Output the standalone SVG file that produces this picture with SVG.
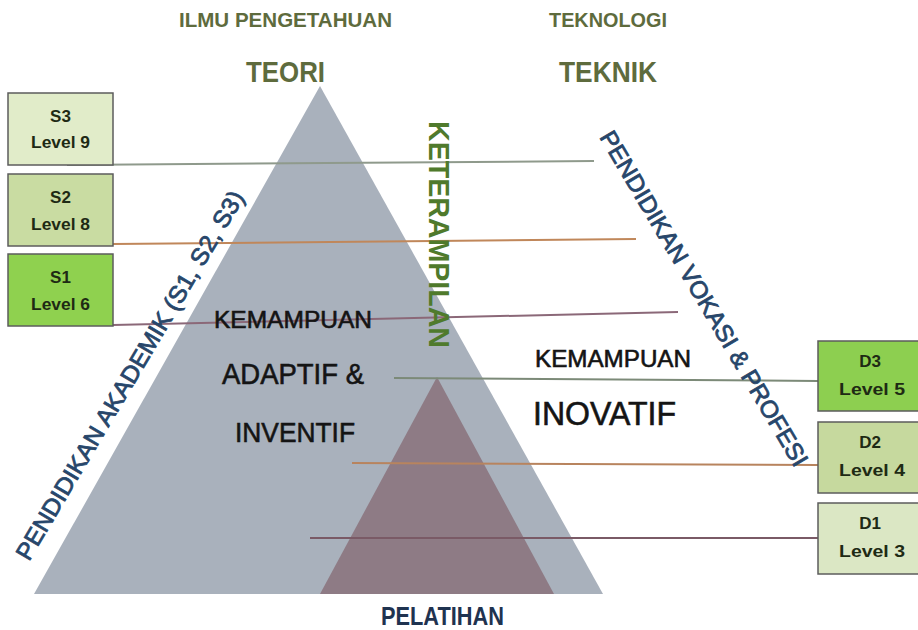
<svg xmlns="http://www.w3.org/2000/svg" width="918" height="630" viewBox="0 0 918 630">
<style>
.title{font-family:"Liberation Sans",Arial,sans-serif;font-weight:bold;fill:#5e6b3d}
.big{font-family:"Liberation Sans",Arial,sans-serif;fill:#141414;stroke:#141414;stroke-width:0.6}
.diag{font-family:"Liberation Sans",Arial,sans-serif;fill:#27466a;stroke:#27466a;stroke-width:0.8;font-size:24px}
.box rect{stroke:#5c5c5c;stroke-width:1.5}
.box text{font-family:"Liberation Sans",Arial,sans-serif;font-weight:bold;font-size:17px;fill:#1e2a14;text-anchor:middle}
.conn line{stroke-width:2}
</style>
<rect width="918" height="630" fill="#ffffff"/>
<g id="pyramid">
<polygon points="320,86 603,594 34,594" fill="#a9b1bc"/>
<polygon points="437,377 554,594 320,594" fill="#8e7b85"/>
</g>
<g id="connectors" class="conn">
<line x1="67" y1="165" x2="594" y2="161" stroke="#8f9a8c"/>
<line x1="113" y1="244" x2="636" y2="239" stroke="#c0875a"/>
<line x1="113" y1="325" x2="678" y2="312" stroke="#8b6878"/>
<line x1="394" y1="378" x2="818" y2="381" stroke="#7c8a78"/>
<line x1="352" y1="463" x2="818" y2="465" stroke="#b8845e"/>
<line x1="310" y1="538" x2="818" y2="538" stroke="#7a5a66"/>
</g>
<g id="headers">
<text class="title" x="179" y="27" font-size="20" textLength="213" lengthAdjust="spacingAndGlyphs">ILMU PENGETAHUAN</text>
<text class="title" x="549" y="27" font-size="20" textLength="118" lengthAdjust="spacingAndGlyphs">TEKNOLOGI</text>
<text class="title" x="246" y="82" font-size="30" textLength="79" lengthAdjust="spacingAndGlyphs">TEORI</text>
<text class="title" x="559" y="82" font-size="30" textLength="98" lengthAdjust="spacingAndGlyphs">TEKNIK</text>
</g>
<g id="keterampilan">
<text transform="translate(429,121) rotate(90)" x="0" y="0" font-family="Liberation Sans, Arial, sans-serif" font-weight="bold" font-size="30" fill="#4f7a2c" textLength="227" lengthAdjust="spacingAndGlyphs">KETERAMPILAN</text>
</g>
<g id="akademik">
<text class="diag" transform="translate(29,562) rotate(-59.4)" x="0" y="0" textLength="424" lengthAdjust="spacingAndGlyphs">PENDIDIKAN AKADEMIK (S1, S2, S3)</text>
</g>
<g id="vokasi">
<text class="diag" transform="translate(599,137) rotate(59.4)" x="0" y="0" textLength="385" lengthAdjust="spacingAndGlyphs">PENDIDIKAN VOKASI &amp; PROFESI</text>
</g>
<g id="adaptif">
<text class="big" x="214" y="328" font-size="23" textLength="158" lengthAdjust="spacingAndGlyphs">KEMAMPUAN</text>
<text class="big" x="222" y="384" font-size="29" textLength="142" lengthAdjust="spacingAndGlyphs">ADAPTIF &amp;</text>
<text class="big" x="235" y="442" font-size="28" textLength="120" lengthAdjust="spacingAndGlyphs">INVENTIF</text>
</g>
<g id="inovatif">
<text class="big" x="535" y="367" font-size="23" textLength="156" lengthAdjust="spacingAndGlyphs">KEMAMPUAN</text>
<text class="big" x="533" y="425" font-size="33" textLength="143" lengthAdjust="spacingAndGlyphs">INOVATIF</text>
</g>
<g id="pelatihan">
<text x="381" y="625" font-family="Liberation Sans, Arial, sans-serif" font-weight="bold" font-size="25" fill="#1f3350" textLength="123" lengthAdjust="spacingAndGlyphs">PELATIHAN</text>
</g>
<g id="s3" class="box">
<rect x="8" y="93" width="105" height="72" fill="#e1ecc9"/>
<text x="60.5" y="122">S3</text>
<text x="60.5" y="148" textLength="59" lengthAdjust="spacingAndGlyphs">Level 9</text>
</g>
<g id="s2" class="box">
<rect x="8" y="174" width="105" height="72" fill="#c9dca2"/>
<text x="60.5" y="203">S2</text>
<text x="60.5" y="230" textLength="59" lengthAdjust="spacingAndGlyphs">Level 8</text>
</g>
<g id="s1" class="box">
<rect x="8" y="254" width="105" height="72" fill="#8fd14f"/>
<text x="60.5" y="283">S1</text>
<text x="60.5" y="310" textLength="59" lengthAdjust="spacingAndGlyphs">Level 6</text>
</g>
<g id="d3" class="box">
<rect x="818" y="341" width="110" height="70" fill="#8dcf50"/>
<text x="870" y="367">D3</text>
<text x="872" y="395" textLength="66" lengthAdjust="spacingAndGlyphs">Level 5</text>
</g>
<g id="d2" class="box">
<rect x="818" y="422" width="110" height="71" fill="#c6d99e"/>
<text x="870" y="448">D2</text>
<text x="872" y="476" textLength="66" lengthAdjust="spacingAndGlyphs">Level 4</text>
</g>
<g id="d1" class="box">
<rect x="818" y="503" width="110" height="71" fill="#dbe7c4"/>
<text x="870" y="529">D1</text>
<text x="872" y="557" textLength="66" lengthAdjust="spacingAndGlyphs">Level 3</text>
</g>
</svg>
